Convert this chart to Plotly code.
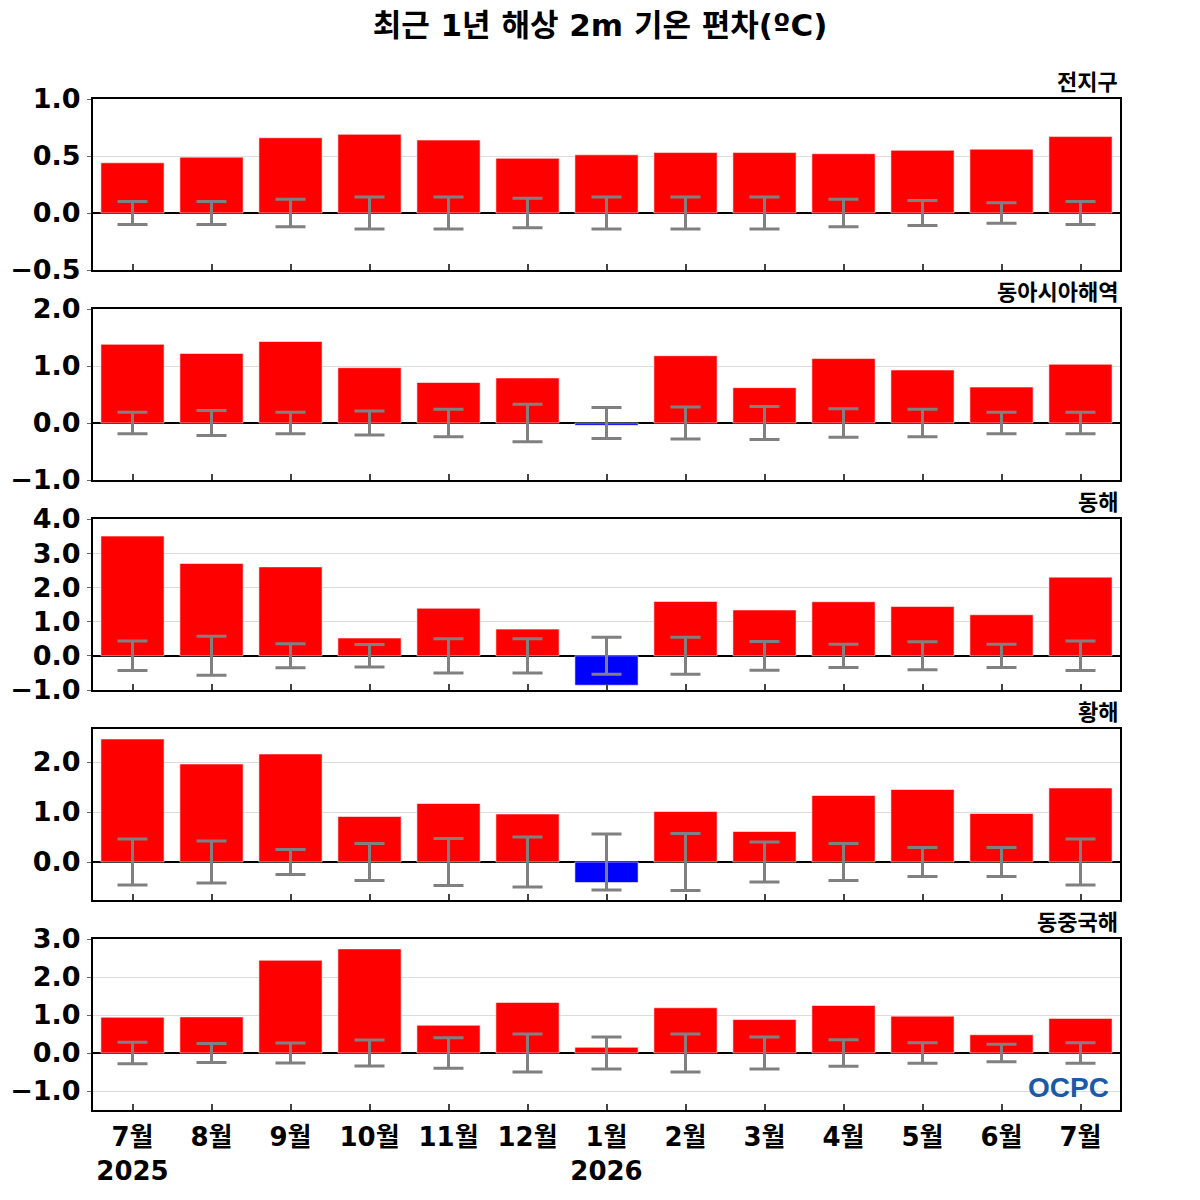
import plotly.graph_objects as go

months = ["7월", "8월", "9월", "10월", "11월", "12월", "1월", "2월", "3월", "4월", "5월", "6월", "7월"]
years = {0: "2025", 6: "2026"}

panel_titles = ["전지구", "동아시아해역", "동해", "황해", "동중국해"]

global_anom = [0.44, 0.49, 0.66, 0.69, 0.64, 0.48, 0.51, 0.53, 0.53, 0.52, 0.55, 0.56, 0.67]
global_sd = [0.10, 0.10, 0.12, 0.14, 0.14, 0.13, 0.14, 0.14, 0.14, 0.12, 0.11, 0.09, 0.10]

eastasia_anom = [1.38, 1.22, 1.43, 0.97, 0.71, 0.79, -0.04, 1.18, 0.62, 1.13, 0.93, 0.63, 1.03]
eastasia_sd = [0.19, 0.22, 0.19, 0.21, 0.24, 0.33, 0.27, 0.28, 0.29, 0.25, 0.24, 0.19, 0.19]

eastsea_anom = [3.50, 2.70, 2.60, 0.52, 1.39, 0.78, -0.86, 1.59, 1.34, 1.58, 1.44, 1.20, 2.30]
eastsea_sd = [0.43, 0.57, 0.35, 0.33, 0.50, 0.50, 0.54, 0.54, 0.42, 0.34, 0.41, 0.34, 0.43]

yellowsea_anom = [2.46, 1.96, 2.16, 0.91, 1.17, 0.96, -0.41, 1.01, 0.61, 1.33, 1.45, 0.97, 1.48]
yellowsea_sd = [0.46, 0.42, 0.25, 0.37, 0.47, 0.50, 0.56, 0.57, 0.40, 0.37, 0.29, 0.29, 0.46]

ecs_anom = [0.94, 0.95, 2.44, 2.74, 0.73, 1.33, 0.15, 1.19, 0.88, 1.25, 0.97, 0.48, 0.91]
ecs_sd = [0.28, 0.25, 0.26, 0.34, 0.40, 0.50, 0.42, 0.50, 0.42, 0.35, 0.27, 0.23, 0.27]

anoms = [global_anom, eastasia_anom, eastsea_anom, yellowsea_anom, ecs_anom]
sds = [global_sd, eastasia_sd, eastsea_sd, yellowsea_sd, ecs_sd]

y_ranges = [[-0.5, 1.0], [-1.0, 2.0], [-1.0, 4.0], [-0.76, 2.66], [-1.5, 3.0]]
y_dticks = [0.5, 1.0, 1.0, 1.0, 1.0]

# page has an 8px body margin; figure drawn at 1192x1192 starting at (8, 8)
OFF = 8
W = H = 1200 - OFF


def fx(px):
    return (px - OFF) / W


def fy(px):
    return 1 - (px - OFF) / H


x0_px, x1_px = 93, 1120
panel_tops = [99, 309, 519, 729, 939]
panel_h = 171

FONT = "DejaVu Sans, Noto Sans CJK KR, sans-serif"

fig = go.Figure()
xs = list(range(len(months)))

for i in range(5):
    ax = "" if i == 0 else str(i + 1)
    colors = ["#ff0000" if v >= 0 else "#0000ff" for v in anoms[i]]
    fig.add_trace(go.Bar(
        x=xs, y=anoms[i], width=0.8,
        marker=dict(color=colors, line=dict(color="rgba(255,255,255,0.55)", width=1)),
        xaxis="x" + ax, yaxis="y" + ax, showlegend=False,
    ))
    fig.add_trace(go.Scatter(
        x=xs, y=[0] * len(xs), mode="markers",
        marker=dict(size=1, color="rgba(0,0,0,0)"),
        error_y=dict(type="data", array=sds[i], symmetric=True,
                     color="#808080", thickness=3, width=15),
        xaxis="x" + ax, yaxis="y" + ax, showlegend=False,
    ))

    top = panel_tops[i]
    bottom = top + panel_h
    ydom = [fy(bottom), fy(top)]
    xdom = [fx(x0_px), fx(x1_px)]
    last = (i == 4)
    ticktext = [m + ("<br>" + years[k] if k in years else "") for k, m in enumerate(months)]
    fig.layout["xaxis" + ax] = dict(
        domain=xdom, anchor="y" + ax, range=[-0.5, 12.5],
        tickmode="array", tickvals=xs, ticktext=ticktext,
        showticklabels=last, ticks="inside", ticklen=6, tickwidth=1.5, tickcolor="#444",
        showline=True, mirror=True, linecolor="black", linewidth=2,
        showgrid=False, zeroline=False,
        tickfont=dict(family=FONT, size=26, color="black", weight="bold"),
        ticklabelstandoff=3, automargin=False,
    )
    fig.layout["yaxis" + ax] = dict(
        domain=ydom, anchor="x" + ax, range=y_ranges[i],
        dtick=y_dticks[i], tick0=0, tickformat=".1f",
        ticks="outside", ticklen=4, tickcolor="#666",
        showline=True, mirror=True, linecolor="black", linewidth=2,
        showgrid=True, gridcolor="#dcdcdc", gridwidth=1,
        zeroline=True, zerolinecolor="black", zerolinewidth=2,
        tickfont=dict(family=FONT, size=27, color="black", weight="bold"),
        ticklabelstandoff=1, automargin=False,
    )
    fig.add_annotation(
        text=panel_titles[i], xref="paper", yref="paper",
        x=fx(x1_px), y=fy(top - 2), xanchor="right", yanchor="bottom",
        showarrow=False, font=dict(family=FONT, size=22, color="black", weight="bold"),
    )

fig.add_annotation(
    text="OCPC", xref="paper", yref="paper", x=fx(1111), y=fy(1087),
    xanchor="right", yanchor="middle", showarrow=False,
    font=dict(family="Liberation Sans, Arial, sans-serif", size=28, color="#1a5aa8", weight="bold"),
)

fig.update_layout(
    width=W, height=H,
    margin=dict(l=0, r=0, t=0, b=0),
    paper_bgcolor="white", plot_bgcolor="white",
    title=dict(text="최근 1년 해상 2m 기온 편차(ºC)", x=fx(600), xanchor="center",
               y=fy(25), yanchor="middle",
               font=dict(family=FONT, size=31, color="black", weight="bold")),
    bargap=0.2,
)

fig.write_html("out.html")
